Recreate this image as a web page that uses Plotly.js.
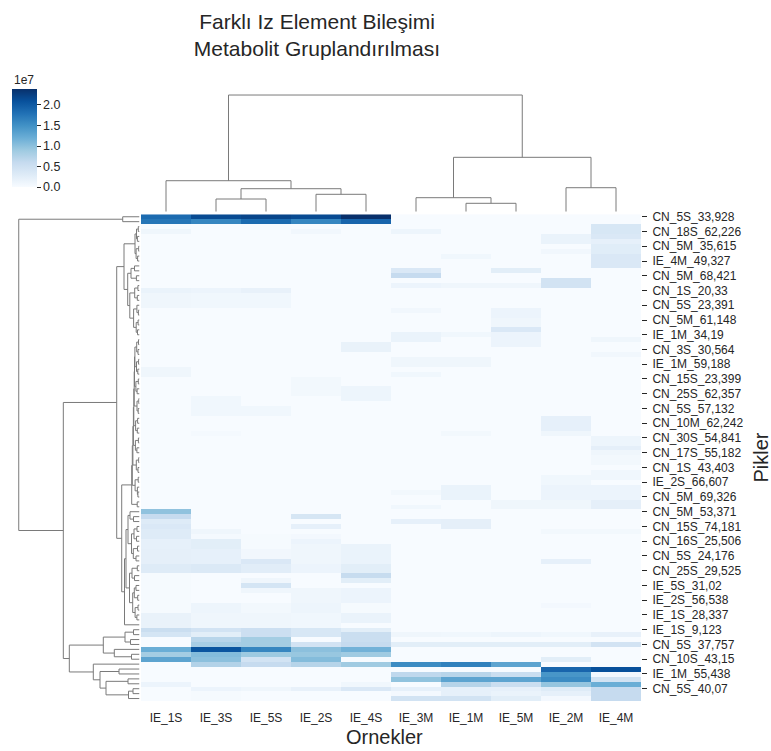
<!DOCTYPE html>
<html><head><meta charset="utf-8">
<script src="https://cdn.plot.ly/plotly-3.0.1.min.js"></script>
<style>html,body{margin:0;padding:0;background:#fff}</style>
</head><body><div id="chart" style="width:771px;height:751px"></div>
<script>
// ---- data -------------------------------------------------------------
const samples = ['IE_1S','IE_3S','IE_5S','IE_2S','IE_4S','IE_3M','IE_1M','IE_5M','IE_2M','IE_4M'];
// every 3rd peak label (rows 0,3,...,96), top to bottom
const peakLabels = ['CN_5S_33,928','CN_18S_62,226','CN_5M_35,615','IE_4M_49,327','CN_5M_68,421','CN_1S_20,33',
  'CN_5S_23,391','CN_5M_61,148','IE_1M_34,19','CN_3S_30,564','IE_1M_59,188','CN_15S_23,399','CN_25S_62,357',
  'CN_5S_57,132','CN_10M_62,242','CN_30S_54,841','CN_17S_55,182','CN_1S_43,403','IE_2S_66,607','CN_5M_69,326',
  'CN_5M_53,371','CN_15S_74,181','CN_16S_25,506','CN_5S_24,176','CN_25S_29,525','IE_5S_31,02','IE_2S_56,538',
  'IE_1S_28,337','IE_1S_9,123','CN_5S_37,757','CN_10S_43,15','IE_1M_55,438','CN_5S_40,07'];
// intensities (x 1e7), 99 peaks in clustered order, one array per sample
const IE_1S = [1.85,1.75,0,0.1,0,0,0,0,0,0, 0,0,0,0,0,0.15,0.1,0.1,0.1,0, 0,0,0,0,0,0,0,0,0,0,
  0,0.1,0.1,0,0,0,0,0,0,0, 0,0,0,0,0,0,0,0,0,0, 0,0,0,0,0,0,0,0,0,0,
  0.98,0.6,0.3,0.35,0.3,0.3,0.2,0.2,0.22,0.22, 0.22,0.3,0.3,0.02,0.02,0.02,0.02,0.02,0.02,0.02,
  0.02,0.17,0.17,0.17,0.55,0.42,0,0,1.2,0.85, 1.3,0,0,0,0,0.13,0,0,0];
const IE_3S = [2.15,1.6,0,0,0,0,0,0,0,0, 0,0,0,0,0,0.13,0.08,0.08,0.08,0, 0,0,0,0,0,0,0,0,0,0,
  0,0,0,0,0,0,0,0.08,0.08,0.08, 0.08,0,0,0,0.04,0,0,0,0,0, 0,0,0,0,0,0,0,0,0,0,
  0,0,0,0,0.1,0.03,0.25,0.25,0.2,0.2, 0.2,0.33,0.33,0,0,0,0,0,0,0.12,
  0.12,0.1,0.1,0.1,0.45,0.25,0.7,0.82,2.05,1.05, 1.0,0.75,0,0,0,0,0.13,0.02,0.02];
const IE_5S = [2.2,1.85,0,0,0,0,0,0,0,0, 0,0,0,0,0,0.18,0.08,0.08,0.08,0, 0,0,0,0,0,0,0,0,0,0,
  0,0,0,0,0,0,0,0,0,0.08, 0.08,0,0,0,0,0,0,0,0,0, 0,0,0,0,0,0,0,0,0,0,
  0,0,0,0,0,0.02,0.02,0.02,0.07,0.07, 0.35,0.26,0.26,0,0.1,0.42,0.1,0,0,0.06,
  0.06,0.1,0.1,0.1,0.52,0.52,0.85,0.85,1.6,0.9, 0.45,0.6,0,0,0,0,0.1,0,0];
const IE_2S = [2.15,1.6,0,0.07,0,0,0,0,0,0, 0,0,0,0,0,0,0,0,0,0, 0,0,0,0,0,0,0,0,0,0,
  0,0,0,0.06,0.06,0.06,0.06,0,0,0, 0,0,0,0,0,0,0,0,0,0, 0,0,0,0,0,0,0,0,0,0,
  0,0.4,0,0.2,0,0.05,0.13,0.1,0.1,0.1, 0.1,0.13,0.13,0,0,0,0.1,0.1,0.1,0.12,
  0.12,0.08,0.08,0.08,0.38,0.38,0,0.45,1.0,0.93, 1.05,0.72,0,0,0,0,0.18,0,0];
const IE_4S = [2.39,1.9,0,0,0,0,0,0,0,0, 0,0,0,0,0,0,0,0,0,0, 0,0,0,0,0,0,0.17,0.17,0,0,
  0,0,0,0,0,0.12,0.12,0.12,0,0, 0,0,0,0,0,0,0,0,0,0, 0,0,0,0,0,0,0,0,0,0,
  0,0,0,0,0,0,0,0.15,0.15,0.15, 0.15,0.25,0.25,0.58,0.25,0,0.13,0.13,0.13,0.02,
  0.02,0.15,0.15,0,0.25,0.55,0.55,0.6,1.15,0.88, 0,0.88,0,0,0,0.08,0.35,0,0];
const IE_3M = [0,0,0,0.12,0,0,0,0,0,0, 0,0.35,0.6,0,0.13,0,0,0,0,0.07, 0,0,0,0,0.15,0.15,0,0,0,0.1,
  0.1,0,0.08,0,0,0,0,0,0,0, 0,0,0,0,0,0,0,0,0,0, 0,0,0,0,0,0,0.06,0,0,0.08,
  0,0,0.2,0,0,0,0,0,0,0, 0,0,0,0,0,0,0,0,0,0,
  0,0,0,0,0,0.1,0,0.25,0,0, 0,1.55,0,0.65,0.97,0,0.2,0.05,0.45];
const IE_1M = [0,0,0,0,0,0,0,0,0.08,0, 0,0,0,0,0.1,0,0,0,0,0, 0,0,0,0,0.08,0,0,0,0,0.1,
  0.1,0,0,0,0,0,0,0,0,0, 0,0,0,0,0.06,0,0,0,0,0, 0,0,0,0,0,0.15,0.15,0.15,0,0,
  0,0,0.22,0.22,0,0,0,0,0,0, 0,0,0,0,0,0,0,0,0,0,
  0,0,0,0,0,0.08,0,0.25,0,0, 0,1.65,0,0.7,1.3,0.72,0.2,0.2,0.45];
const IE_5M = [0,0,0,0,0,0,0,0,0,0, 0,0.25,0,0,0.1,0,0,0,0,0.13, 0.13,0.1,0.1,0.35,0.13,0.13,0.13,0,0,0,
  0,0,0,0,0,0,0,0,0,0, 0,0,0,0,0,0,0,0,0,0, 0,0,0,0,0,0,0,0,0.1,0.1,
  0,0,0,0,0,0,0,0,0,0, 0,0,0,0,0,0,0,0,0,0,
  0,0,0,0,0,0.12,0,0.25,0,0, 0,1.3,0,0.55,1.3,0.55,0.2,0.15,0.25];
const IE_2M = [0,0,0,0,0.15,0.15,0,0.07,0,0, 0,0,0,0.45,0.45,0,0,0,0,0, 0,0,0,0,0,0,0,0,0,0,
  0,0,0,0,0,0,0,0,0,0, 0,0.2,0.2,0.2,0.1,0,0,0,0,0, 0,0,0,0.08,0.08,0.13,0.13,0.13,0.1,0.1,
  0,0,0,0,0.06,0,0,0,0,0, 0.2,0,0,0,0,0,0,0,0,0.05,
  0,0,0,0,0,0.08,0,0.25,0,0, 0.25,0,1.9,1.45,1.55,0.95,0.3,0.2,0.05];
const IE_4M = [0,0,0.38,0.38,0.35,0.2,0.27,0.27,0.35,0.35, 0.35,0,0,0,0,0,0,0,0,0, 0,0,0,0,0,0.1,0,0,0.07,0,
  0,0,0,0,0,0,0,0,0,0, 0,0,0,0,0,0.12,0.12,0.22,0.1,0.06, 0.06,0,0.08,0.08,0,0.13,0.13,0.13,0.22,0.22,
  0,0,0,0,0.06,0,0,0,0,0, 0,0,0,0,0,0,0,0,0,0,
  0,0,0,0,0,0.18,0,0.45,0,0, 0,0,2.1,0.05,0.45,1.2,0.6,0.6,0.6];
// linkage trees (leaf = position in clustered order, ":h" = merge distance)
const colTree = '((0,((1,2):12.7,(3,4):17.4):23.0):31.0,((5,(6,7):8.4):14.0,(8,9):24.0):54.4):116.7';
const rowTree =
 '((0,1):16.8,(((' +
   '(((2,3):1.2,(4,5):2.1):3.0,((6,7):0.8,(8,9):1.9):3.4):4.5,' +
   '(((10,11):5.0,(12,13):3.1):8.5,(((14,15):1.6,(16,17):2.2):4.8,((18,(19,20):1.1):2.6,((21,22):1.4,(23,24):2.0):3.3):5.9):9.7):11.8' +
 '):15.5,(' +
   '((((((((((25,26):1.0,(27,28):1.5):2.8,((29,30):0.9,(31,32):1.7):3.0):4.6,((33,34):1.2,(35,36):2.4):3.6):5.0,' +
   '((37,38):0.7,(39,40):1.3):2.5):5.3,((41,42):1.9,(43,44):2.2):3.9):5.7,((45,46):1.1,(47,48):2.6):4.1):6.1,' +
   '((49,50):0.8,(51,52):1.5):3.2):6.6,((53,54):1.3,(55,(56,57):1.6):2.1):4.4):7.2,(58,59):2.3):7.8,' +
   '((((60,(61,62):6.0):9.5,(((63,64):2.5,(65,66):3.0):5.5,((67,68):2.0,(69,70):3.5):6.2):8.0):11.5,' +
   '(((71,72):2.2,(73,74):5.0):7.5,(((75,76):3.5,(77,78):1.8):5.2,((79,80):1.5,(81,82):2.6):4.4):6.8):10.0):13.5,83):15.0' +
 '):17.8):22.8,(' +
   '(((84,85):6.0,(86,87):9.0):14.5,(88,(89,90):8.0):25.2):36.2,' +
   '(91,((92,93):20.5,((94,95):11.5,((96,97):6.5,98):11.0):33.5):39.5):46.2' +
 '):70.2):76.2):120.8';

// ---- helpers ----------------------------------------------------------
function parseTree(s){
  let i=0;
  function num(){ let j=i; while(i<s.length && /[0-9.]/.test(s[i])) i++; return parseFloat(s.slice(j,i)); }
  function node(){
    if(s[i]==='('){
      i++; const a=node(); i++; const b=node(); i++;
      let h=0; if(s[i]===':'){ i++; h=num(); }
      return {kids:[a,b], h};
    }
    return {leaf:num(), h:0};
  }
  return node();
}
function segments(tree){
  const P=[], D=[];
  (function walk(n){
    if(n.kids===undefined){ n.pos=n.leaf; return; }
    n.kids.forEach(walk);
    const [a,b]=n.kids;
    n.pos=(a.pos+b.pos)/2;
    P.push(a.pos,a.pos,b.pos,b.pos,null); D.push(a.h,n.h,n.h,b.h,null);
  })(tree);
  return {P,D,top:tree.h};
}
const cols=[IE_1S,IE_3S,IE_5S,IE_2S,IE_4S,IE_3M,IE_1M,IE_5M,IE_2M,IE_4M];
const nRows=IE_1S.length;
const rowIdx=[...Array(nRows).keys()];
const z=rowIdx.map(r=>cols.map(c=>c[r]));
const blues=[[0,'#f7fbff'],[0.125,'#deebf7'],[0.25,'#c6dbef'],[0.375,'#9ecae1'],[0.5,'#6baed6'],
  [0.625,'#4292c6'],[0.75,'#2171b5'],[0.875,'#08519c'],[1,'#08306b']];

const W=771,H=751;
const px=v=>v/W, py=v=>1-v/H;
const cd=segments(parseTree(colTree));
const rd=segments(parseTree(rowTree));
const font='"Liberation Sans", Arial, sans-serif';
const txt='#262626';
const dendroLine={color:'#7a7a7a',width:1};

const traces=[
 {type:'heatmap', x:samples, y:rowIdx, z:z, xaxis:'x', yaxis:'y',
  colorscale:blues, zmin:0, zmax:2.39, xgap:0, ygap:0,
  hovertemplate:'%{x}<br>row %{y}<br>%{z:.2f}e7<extra></extra>',
  colorbar:{x:px(11.7), xanchor:'left', y:py(89), yanchor:'top', len:98, lenmode:'pixels',
    thickness:24.5, thicknessmode:'pixels', xpad:0, ypad:0, outlinewidth:0,
    ticks:'outside', ticklen:4, tickcolor:txt, tickvals:[0,0.5,1,1.5,2], tickformat:'.1f',
    ticklabelstandoff:2, tickfont:{size:12.5,color:txt,family:font}}},
 {type:'scatter', mode:'lines', x:cd.P, y:cd.D, xaxis:'x2', yaxis:'y2', line:dendroLine,
  hoverinfo:'skip', showlegend:false, cliponaxis:false},
 {type:'scatter', mode:'lines', x:rd.D, y:rd.P, xaxis:'x3', yaxis:'y3', line:dendroLine,
  hoverinfo:'skip', showlegend:false, cliponaxis:false}
];

const hmX=[px(141),px(641)], hmY=[py(701),py(214.3)];
const hidden={showgrid:false,zeroline:false,showticklabels:false,ticks:'',showline:false};
const layout={
  width:W, height:H, margin:{l:0,r:0,t:0,b:0}, paper_bgcolor:'#fff', plot_bgcolor:'#fff',
  font:{family:font,color:txt,size:12}, showlegend:false,
  title:{text:'Farklı Iz Element Bileşimi<br>Metabolit Gruplandırılması', x:px(317), xanchor:'center',
    y:py(29), yanchor:'middle', font:{size:21,color:txt,family:font}},
  xaxis:{domain:hmX, anchor:'y', type:'category', range:[-0.5,9.5], showgrid:false, zeroline:false,
    ticks:'outside', ticklen:6, tickcolor:'rgba(0,0,0,0)', tickfont:{size:12,color:txt}},
  yaxis:{domain:hmY, anchor:'x', side:'right', range:[nRows-0.5,-0.5], showgrid:false, zeroline:false,
    tickvals:peakLabels.map((_,k)=>3*k), ticktext:peakLabels, ticks:'outside', ticklen:5, tickwidth:1,
    tickcolor:txt, ticklabelstandoff:3, tickfont:{size:12,color:txt}},
  xaxis2:Object.assign({domain:hmX, anchor:'y2', range:[-0.5,9.5]},hidden),
  yaxis2:Object.assign({domain:[py(211.7),py(89.2)], anchor:'x2', range:[0,cd.top*1.05]},hidden),
  xaxis3:Object.assign({domain:[px(12.7),px(139.5)], anchor:'y3', range:[rd.top*1.05,0]},hidden),
  yaxis3:Object.assign({domain:hmY, anchor:'x3', range:[nRows-0.5,-0.5]},hidden),
  annotations:[
    {text:'1e7', xref:'paper', yref:'paper', x:px(24), y:py(80), xanchor:'center', yanchor:'middle',
     showarrow:false, font:{size:12,color:txt}},
    {text:'Ornekler', xref:'paper', yref:'paper', x:px(384), y:py(737), xanchor:'center', yanchor:'middle',
     showarrow:false, font:{size:20,color:txt}},
    {text:'Pikler', xref:'paper', yref:'paper', x:px(760), y:py(457.5), xanchor:'center', yanchor:'middle',
     textangle:-90, showarrow:false, font:{size:20,color:txt}}
  ]
};
Plotly.newPlot('chart',traces,layout,{staticPlot:true,displayModeBar:false});
</script>
</body></html>
